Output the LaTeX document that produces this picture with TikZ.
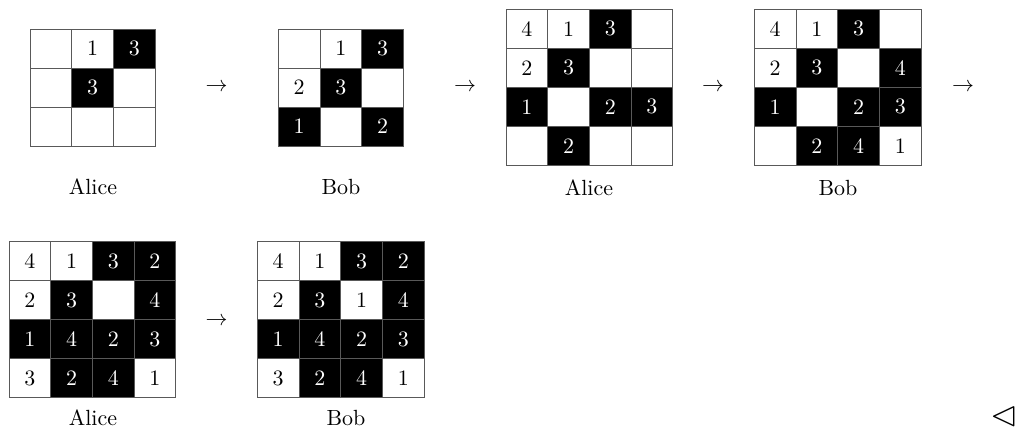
\documentclass[tikz,border=0pt]{standalone}
\usepackage{amsmath,amssymb}
\usepackage{tikz}
\usetikzlibrary{positioning}

\begin{document}
\begin{tikzpicture}[x=0.016cm,y=-0.016cm,
    wcell/.style={draw=black!65,fill=white,text=black,minimum width=0.667cm,
      minimum height=0.624cm,inner sep=0pt,outer sep=0pt},
    bcell/.style={wcell,fill=black,text=white}]
    \useasboundingbox (0,0) rectangle (1017,427);
    % first turn: Alice
    \begin{scope}[shift={(30,29)}]
      \foreach \r/\c/\v/\s in {1/1/{}/wcell,1/2/1/wcell,1/3/3/bcell,
          2/1/{}/wcell,2/2/3/bcell,2/3/{}/wcell,
          3/1/{}/wcell,3/2/{}/wcell,3/3/{}/wcell}{
        \node[\s] (a1-\r\c) at (\c*41.7-20.85,\r*39-19.5) {\v};
      }
    \end{scope}
    % Bob
    \begin{scope}[shift={(278.3,29)}]
      \foreach \r/\c/\v/\s in {1/1/{}/wcell,1/2/1/wcell,1/3/3/bcell,
          2/1/2/wcell,2/2/3/bcell,2/3/{}/wcell,
          3/1/1/bcell,3/2/{}/wcell,3/3/2/bcell}{
        \node[\s] (b1-\r\c) at (\c*41.7-20.85,\r*39-19.5) {\v};
      }
    \end{scope}
    % Alice, 4x4
    \begin{scope}[shift={(506,9.3)}]
      \foreach \r/\c/\v/\s in {1/1/4/wcell,1/2/1/wcell,1/3/3/bcell,1/4/{}/wcell,
          2/1/2/wcell,2/2/3/bcell,2/3/{}/wcell,2/4/{}/wcell,
          3/1/1/bcell,3/2/{}/wcell,3/3/2/bcell,3/4/3/bcell,
          4/1/{}/wcell,4/2/2/bcell,4/3/{}/wcell,4/4/{}/wcell}{
        \node[\s] (a2-\r\c) at (\c*41.7-20.85,\r*39-19.5) {\v};
      }
    \end{scope}
    % Bob, 4x4
    \begin{scope}[shift={(754.3,9.3)}]
      \foreach \r/\c/\v/\s in {1/1/4/wcell,1/2/1/wcell,1/3/3/bcell,1/4/{}/wcell,
          2/1/2/wcell,2/2/3/bcell,2/3/{}/wcell,2/4/4/bcell,
          3/1/1/bcell,3/2/{}/wcell,3/3/2/bcell,3/4/3/bcell,
          4/1/{}/wcell,4/2/2/bcell,4/3/4/bcell,4/4/1/wcell}{
        \node[\s] (b2-\r\c) at (\c*41.7-20.85,\r*39-19.5) {\v};
      }
    \end{scope}
    % second row
    \begin{scope}[shift={(9,241.7)}]
      \foreach \r/\c/\v/\s in {1/1/4/wcell,1/2/1/wcell,1/3/3/bcell,1/4/2/bcell,
          2/1/2/wcell,2/2/3/bcell,2/3/{}/wcell,2/4/4/bcell,
          3/1/1/bcell,3/2/4/bcell,3/3/2/bcell,3/4/3/bcell,
          4/1/3/wcell,4/2/2/bcell,4/3/4/bcell,4/4/1/wcell}{
        \node[\s] (a3-\r\c) at (\c*41.7-20.85,\r*39-19.5) {\v};
      }
    \end{scope}
    \begin{scope}[shift={(257.3,241.7)}]
      \foreach \r/\c/\v/\s in {1/1/4/wcell,1/2/1/wcell,1/3/3/bcell,1/4/2/bcell,
          2/1/2/wcell,2/2/3/bcell,2/3/1/wcell,2/4/4/bcell,
          3/1/1/bcell,3/2/4/bcell,3/3/2/bcell,3/4/3/bcell,
          4/1/3/wcell,4/2/2/bcell,4/3/4/bcell,4/4/1/wcell}{
        \node[\s] (b3-\r\c) at (\c*41.7-20.85,\r*39-19.5) {\v};
      }
    \end{scope}
    % arrows and names
    \foreach \n/\x/\y in {1/216.7/87.7,2/465/87.7,3/713/87.3,4/963/87.3,5/216.7/321}{
      \node (to\n) at (\x,\y) {$\rightarrow$};
    }
    \foreach \n/\x/\y/\who in {a1/93/187/Alice,b1/341/187/Bob,a2/589/188/Alice,
        b2/838/188/Bob,a3/93/418/Alice,b3/346/418/Bob}{
      \node[inner sep=0.5pt] (lbl-\n) at (\x,\y) {\who};
    }
    \node[inner sep=0pt,scale=1.6] (qed) at (1004.5,416) {$\vartriangleleft$};
  \end{tikzpicture}
\end{document}
